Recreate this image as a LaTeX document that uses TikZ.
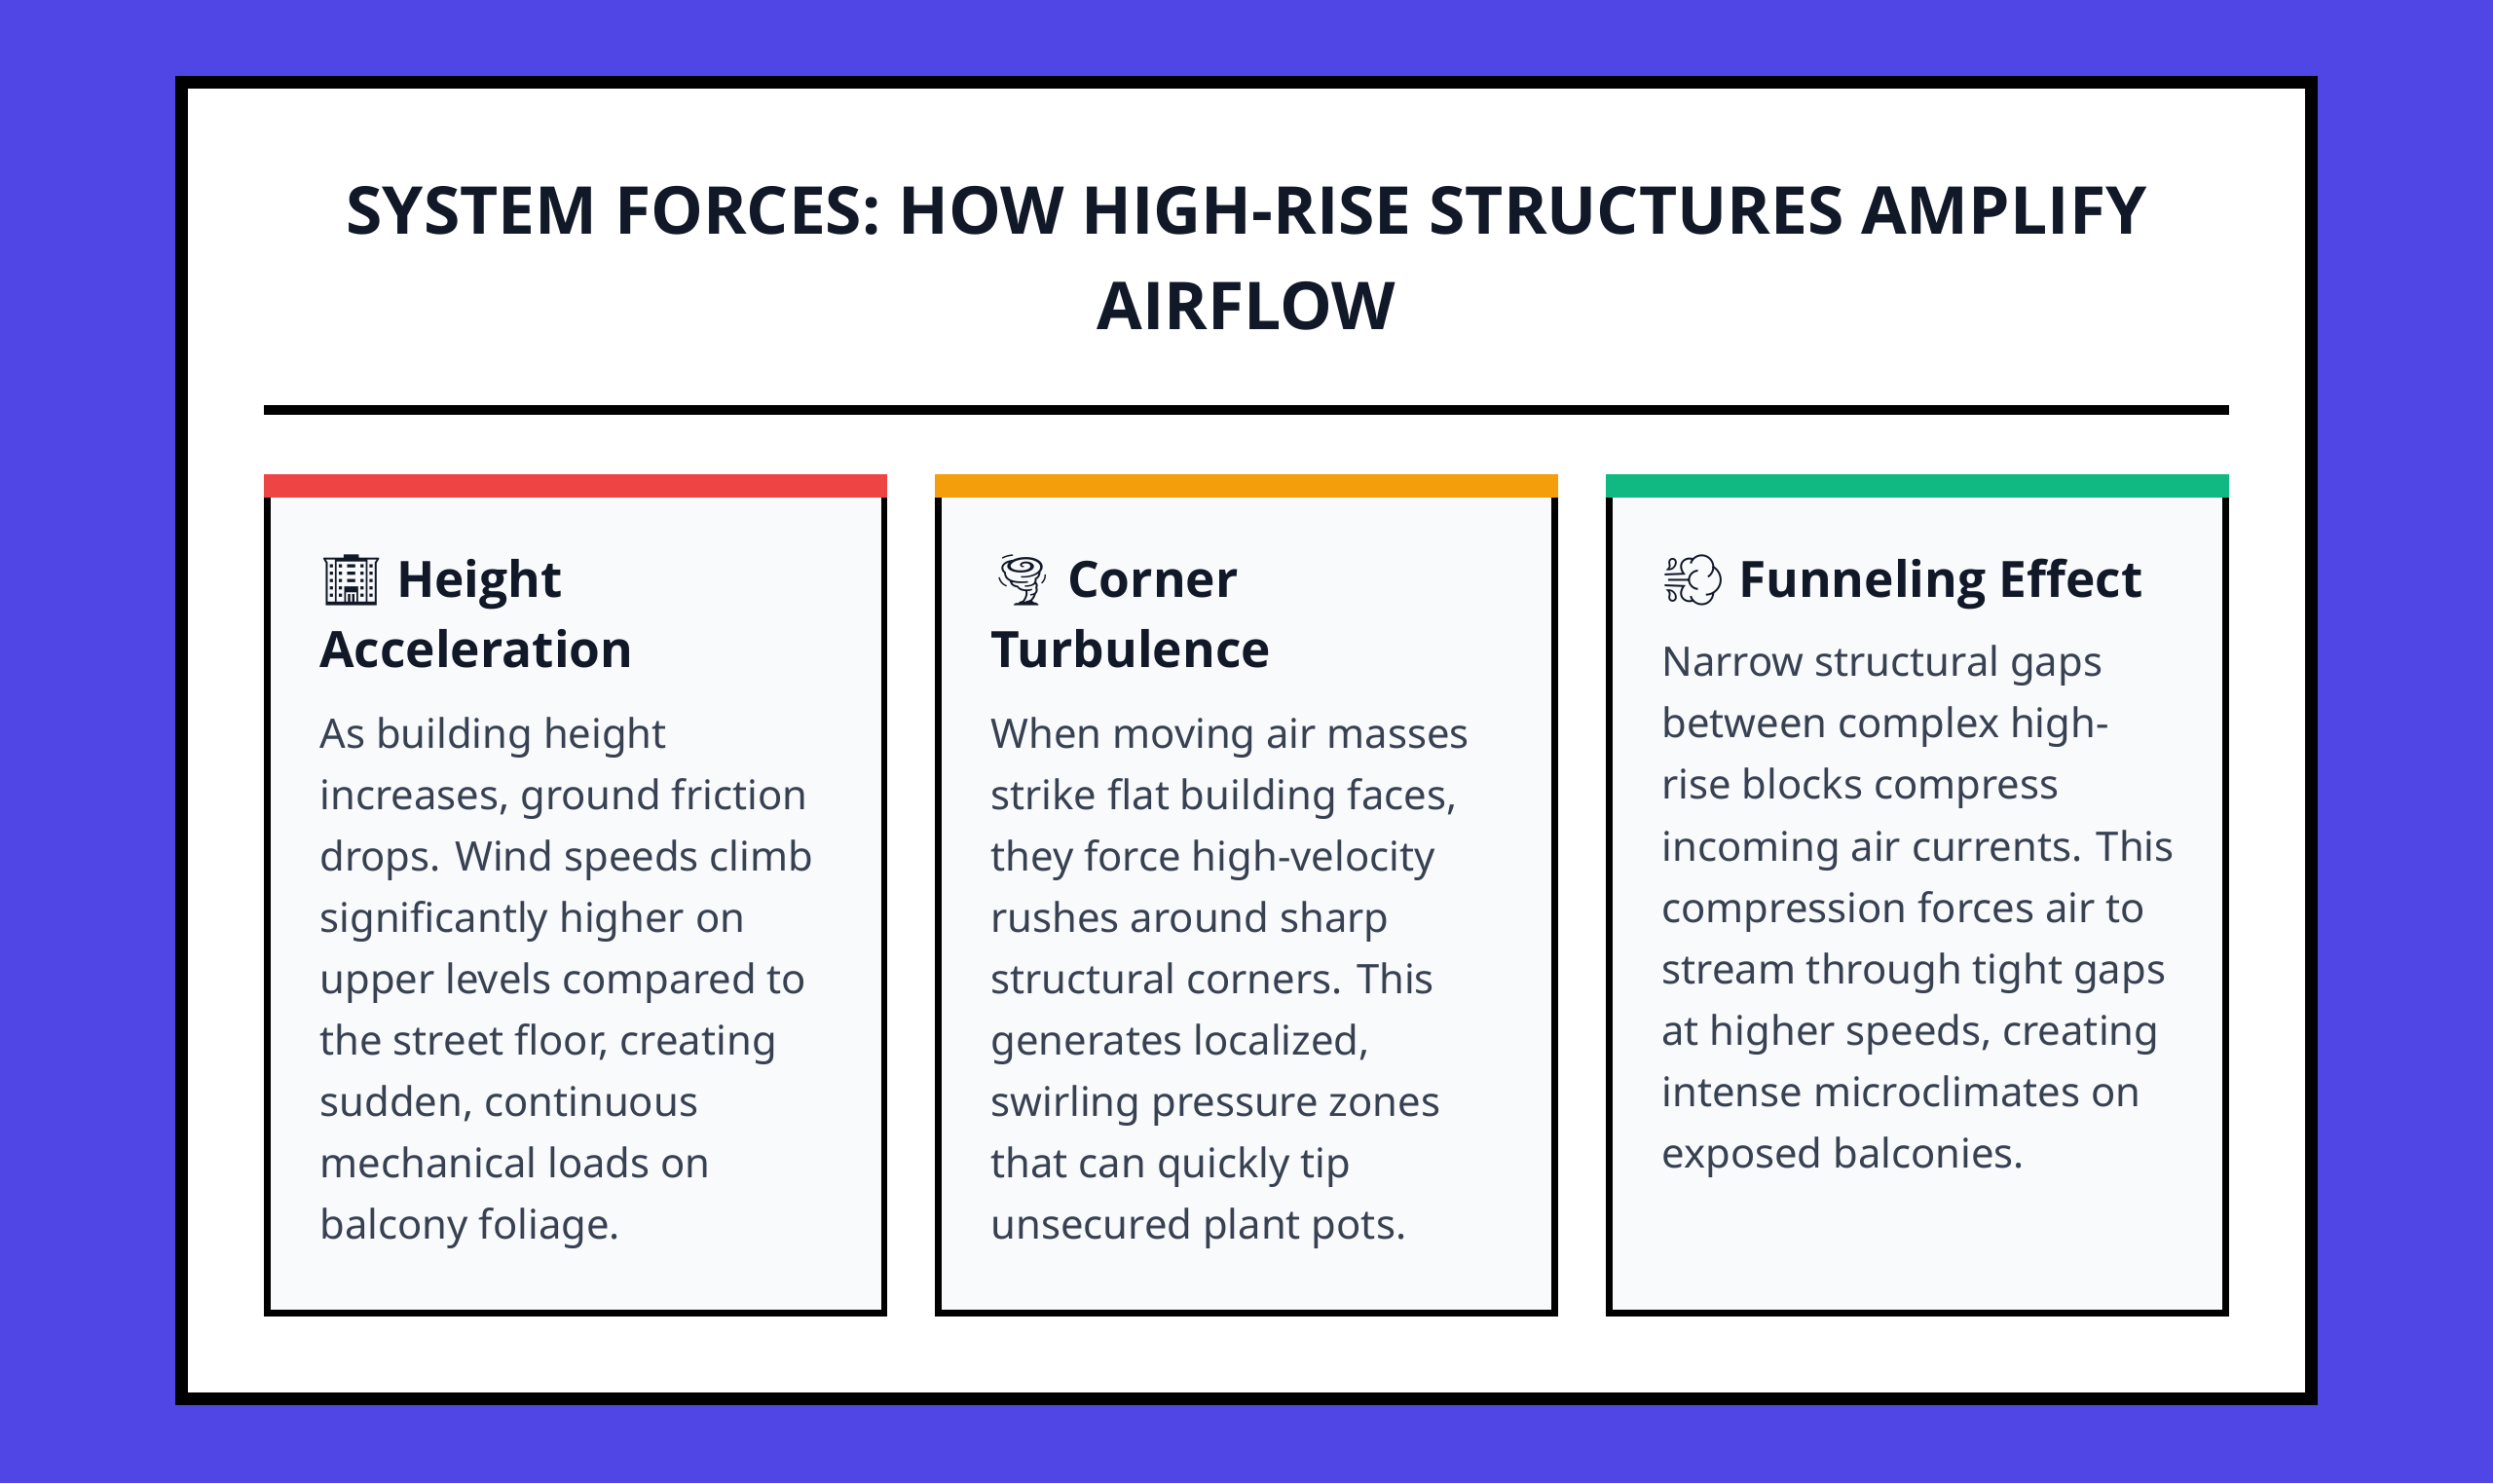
\documentclass[tikz,border=0pt]{standalone}
\usepackage{fontspec}
\setmainfont{Noto Sans}
\newfontfamily\headfont{Open Sans}
\newfontfamily\emojifont{Noto Emoji}
\usetikzlibrary{positioning}
\definecolor{bgblue}{HTML}{4F46E5}
\definecolor{cardfill}{HTML}{F8FAFC}
\definecolor{inkdark}{HTML}{111827}
\definecolor{inkbody}{HTML}{374151}
\definecolor{barred}{HTML}{EF4444}
\definecolor{baramber}{HTML}{F59E0B}
\definecolor{bargreen}{HTML}{10B981}
\tikzset{
  cardbox/.style={draw=black, line width=4pt, fill=cardfill},
  headtxt/.style={anchor=north west, inner sep=0pt, text=inkdark, align=left,
    font=\fontsize{31.5}{44}\selectfont\headfont\bfseries},
  bodytxt/.style={anchor=north west, inner sep=0pt, text=inkbody, align=left,
    font=\fontsize{25.6}{38.6}\selectfont},
  titletxt/.style={anchor=north, inner sep=0pt, text=inkdark, align=center,
    font=\fontsize{41.5}{60}\selectfont\headfont\bfseries}
}
\begin{document}
\begin{tikzpicture}[x=1pt,y=-1pt]
\useasboundingbox[fill=bgblue] (0,0) rectangle (1568,933);
\draw[line width=8pt, fill=white] (114,52) rectangle (1454,880);

\node[titletxt] (title) at (784,117) {SYSTEM FORCES: HOW HIGH-RISE STRUCTURES AMPLIFY\\AIRFLOW};
\draw[line width=6pt] (166,258) -- (1402,258);

% cards
\foreach \x/\c/\n in {166/barred/a, 588/baramber/b, 1010/bargreen/c}{
  \draw[cardbox] (\x+2,300) rectangle (\x+390,826);
  \fill[\c] (\x,298) rectangle (\x+392,313);
}

\node[headtxt] (h1) at (201,349) {{\emojifont 🏢}\ Height\\Acceleration};
\node[bodytxt] (b1) at (201,451) {As building height\\increases, ground friction\\drops. Wind speeds climb\\significantly higher on\\upper levels compared to\\the street floor, creating\\sudden, continuous\\mechanical loads on\\balcony foliage.};

\node[headtxt] (h2) at (623,349) {{\emojifont 🌪}\ Corner\\Turbulence};
\node[bodytxt] (b2) at (623,451) {When moving air masses\\strike flat building faces,\\they force high-velocity\\rushes around sharp\\structural corners. This\\generates localized,\\swirling pressure zones\\that can quickly tip\\unsecured plant pots.};

\node[headtxt] (h3) at (1045,349) {{\emojifont 💨}\ Funneling Effect};
\node[bodytxt] (b3) at (1045,406) {Narrow structural gaps\\between complex high-\\rise blocks compress\\incoming air currents. This\\compression forces air to\\stream through tight gaps\\at higher speeds, creating\\intense microclimates on\\exposed balconies.};
\end{tikzpicture}
\end{document}
